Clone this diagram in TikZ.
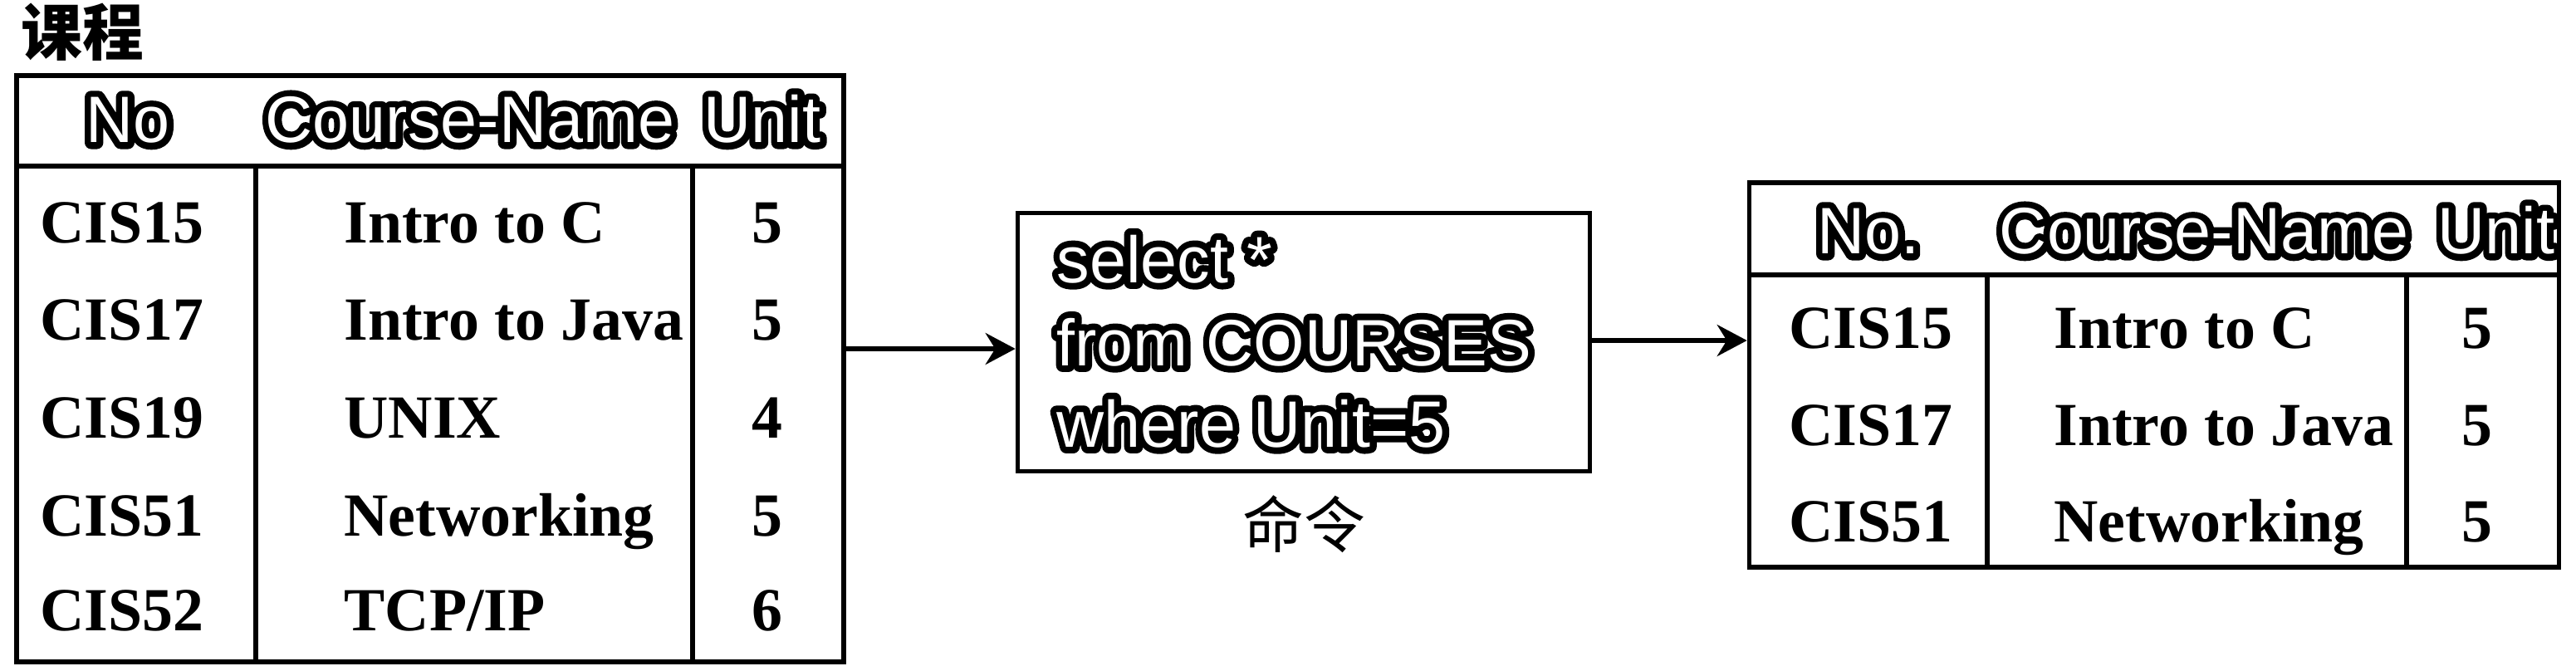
\documentclass[tikz,border=0pt]{standalone}
\usepackage{fontspec}
\usetikzlibrary{arrows.meta}
\setmainfont{Liberation Serif}
\newfontfamily\hdrfont{Liberation Sans}
\newfontfamily\hdrthick{Liberation Sans}[FakeBold=20]
\newfontfamily\cjk{Noto Sans CJK SC}
\newcommand{\hollow}[1]{\rlap{\hdrthick #1}{\hdrfont\color{white}#1}}

\begin{document}
\begin{tikzpicture}[line width=1.5pt,
  every node/.style={inner sep=0pt, font=\fontsize{21}{25}\selectfont\bfseries, text height=0.66em, text depth=0pt},
  hdr/.style={font=\fontsize{22.5}{27}\selectfont, line join=round},
  tbl/.style={draw, line width=1.6pt},
  link/.style={-{Stealth[length=0.36cm, width=0.38cm]}, line width=1.5pt}]

\useasboundingbox (0,0) rectangle (31.02,-8.07);

% Title
\node (title) at (0.99,-0.55) {\cjk 课程};

% Table 1
\node[tbl, minimum width=9.96cm, minimum height=7.06cm] (courses) at (5.18,-4.44) {};
\draw (courses.west |- 0,-2.00) -- (courses.east |- 0,-2.00);
\draw (3.08,-2.00) -- (3.08,0 |- courses.south);
\draw (8.34,-2.00) -- (8.34,0 |- courses.south);

\node[hdr] (h11) at (1.54,-1.60) {\hollow{No}};
\node[hdr] (h12) at (5.66,-1.60) {\hollow{Course-Name}};
\node[hdr] (h13) at (9.18,-1.60) {\hollow{Unit}};

% Rows of table 1
\node (a11) at (1.47,-2.81) {CIS15};
\node[anchor=west] (a12) at (4.12,-2.81) {Intro to C};
\node (a13) at (9.24,-2.81) {5};

\node (a21) at (1.47,-3.98) {CIS17};
\node[anchor=west] (a22) at (4.12,-3.98) {Intro to Java};
\node (a23) at (9.24,-3.98) {5};

\node (a31) at (1.47,-5.16) {CIS19};
\node[anchor=west] (a32) at (4.12,-5.16) {UNIX};
\node (a33) at (9.24,-5.16) {4};

\node (a41) at (1.47,-6.34) {CIS51};
\node[anchor=west] (a42) at (4.12,-6.34) {Networking};
\node (a43) at (9.24,-6.34) {5};

\node (a51) at (1.47,-7.48) {CIS52};
\node[anchor=west] (a52) at (4.12,-7.48) {TCP/IP};
\node (a53) at (9.24,-7.48) {6};

% Command box
\node[tbl, minimum width=6.89cm, minimum height=3.11cm] (cmd) at (15.70,-4.12) {};
\node[hdr, anchor=base west] (q1) at (12.70,-3.40) {\hollow{select *}};
\node[hdr, anchor=base west] (q2) at (12.70,-4.40) {\hollow{from COURSES}};
\node[hdr, anchor=base west] (q3) at (12.70,-5.38) {\hollow{where Unit=5}};
\node[font=\fontsize{21}{25}\selectfont] (cmdlabel) at (15.70,-6.48) {\cjk 命令};

% Table 2
\node[tbl, minimum width=9.75cm, minimum height=4.63cm] (result) at (25.94,-4.515) {};
\draw (result.west |- 0,-3.31) -- (result.east |- 0,-3.31);
\draw (23.93,-3.31) -- (23.93,0 |- result.south);
\draw (28.98,-3.31) -- (28.98,0 |- result.south);

\node[hdr] (h21) at (22.50,-2.94) {\hollow{No.}};
\node[hdr] (h22) at (26.54,-2.94) {\hollow{Course-Name}};
\node[hdr] (h23) at (30.06,-2.94) {\hollow{Unit}};

% Rows of table 2
\node (b11) at (22.53,-4.08) {CIS15};
\node[anchor=west] (b12) at (24.71,-4.08) {Intro to C};
\node (b13) at (29.83,-4.08) {5};

\node (b21) at (22.53,-5.25) {CIS17};
\node[anchor=west] (b22) at (24.71,-5.25) {Intro to Java};
\node (b23) at (29.83,-5.25) {5};

\node (b31) at (22.53,-6.41) {CIS51};
\node[anchor=west] (b32) at (24.71,-6.41) {Networking};
\node (b33) at (29.83,-6.41) {5};

% Arrows
\draw[link] (courses.east |- 0,-4.20) -- (cmd.west |- 0,-4.20);
\draw[link] (cmd.east |- 0,-4.10) -- (result.west |- 0,-4.10);

\end{tikzpicture}
\end{document}
